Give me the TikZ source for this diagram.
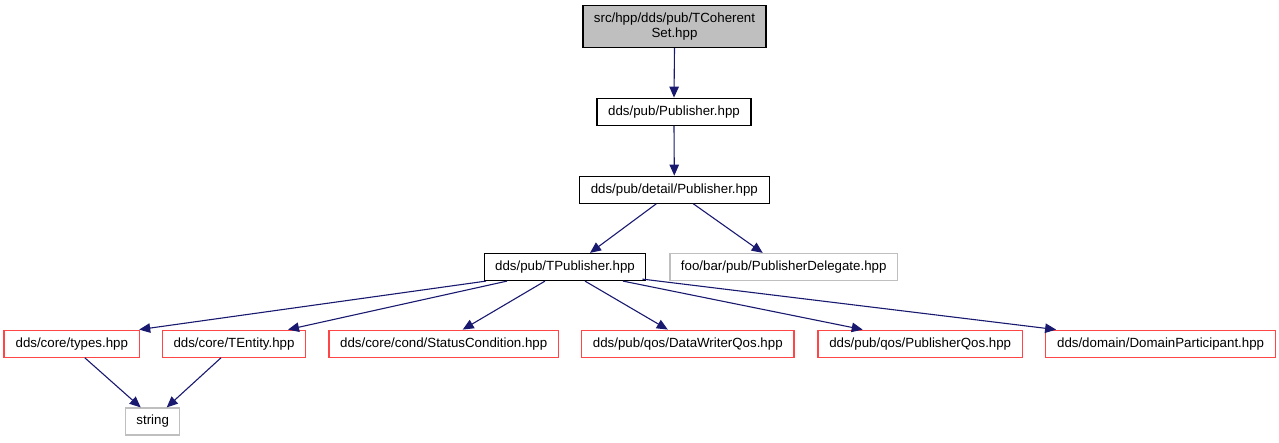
\documentclass[tikz,border=0pt]{standalone}
\usepackage{fontspec}
\setmainfont{Liberation Sans}
\usetikzlibrary{arrows.meta,calc}
\definecolor{edgec}{HTML}{191970}
\definecolor{redc}{HTML}{FF4545}
\definecolor{grayc}{HTML}{BFBFBF}
\tikzset{
  box/.style={draw=black, line width=1.2pt, inner sep=0pt, minimum height=27pt,
    font=\fontsize{13.3}{15}\selectfont, anchor=center},
  redbox/.style={box, draw=redc},
  graybox/.style={box, draw=grayc},
  dep/.style={draw=edgec, line width=1.1pt, -{Triangle[length=11pt,width=9.5pt]}},
}
\begin{document}
\begin{tikzpicture}[x=1pt,y=-1pt]
\useasboundingbox (0,0) rectangle (1279,443);
\node[box, fill=grayc, minimum width=183pt, minimum height=42pt, align=center] (top) at (674.5,26.5) {src/hpp/dds/pub/TCoherent\\Set.hpp};
\node[box, minimum width=154pt] (pub) at (674,111.7) {dds/pub/Publisher.hpp};
\node[box, minimum width=190pt] (det) at (674.3,189.7) {dds/pub/detail/Publisher.hpp};
\node[box, minimum width=161.4pt] (tpub) at (565,267) {dds/pub/TPublisher.hpp};
\node[graybox, minimum width=227.3pt] (deleg) at (783.7,267) {foo/bar/pub/PublisherDelegate.hpp};
\node[redbox, minimum width=135.6pt] (types) at (71.8,343.7) {dds/core/types.hpp};
\node[redbox, minimum width=143.3pt] (tent) at (234,343.7) {dds/core/TEntity.hpp};
\node[redbox, minimum width=229.4pt] (stat) at (443.7,343.7) {dds/core/cond/StatusCondition.hpp};
\node[redbox, minimum width=212.3pt] (dwq) at (687.8,343.7) {dds/pub/qos/DataWriterQos.hpp};
\node[redbox, minimum width=204.4pt] (pq) at (920.2,343.7) {dds/pub/qos/PublisherQos.hpp};
\node[redbox, minimum width=229.8pt] (dp) at (1160.6,343.7) {dds/domain/DomainParticipant.hpp};
\node[graybox, minimum width=54pt] (str) at (152.7,421.5) {string};

\draw[dep] (top.south) -- (pub.north);
\draw[dep] (pub.south) -- (det.north);
\draw[dep] ([xshift=-18pt]det.south) -- ([xshift=25pt]tpub.north);
\draw[dep] ([xshift=19pt]det.south) -- ([xshift=-21pt]deleg.north);
\draw[dep] ([xshift=-79pt]tpub.south) -- ([xshift=-1pt]types.north east);
\draw[dep] ([xshift=-58pt]tpub.south) -- ([xshift=54pt]tent.north);
\draw[dep] ([xshift=-20pt]tpub.south) -- ([xshift=19pt]stat.north);
\draw[dep] ([xshift=20pt]tpub.south) -- ([xshift=-20pt]dwq.north);
\draw[dep] ([xshift=58pt]tpub.south) -- ([xshift=-57.5pt]pq.north);
\draw[dep] ([xshift=-4pt,yshift=2pt]tpub.south east) -- ([xshift=11pt]dp.north west);
\draw[dep] ([xshift=13pt]types.south) -- ([xshift=-12pt]str.north);
\draw[dep] ([xshift=-13pt]tent.south) -- ([xshift=14pt]str.north);
\end{tikzpicture}
\end{document}
